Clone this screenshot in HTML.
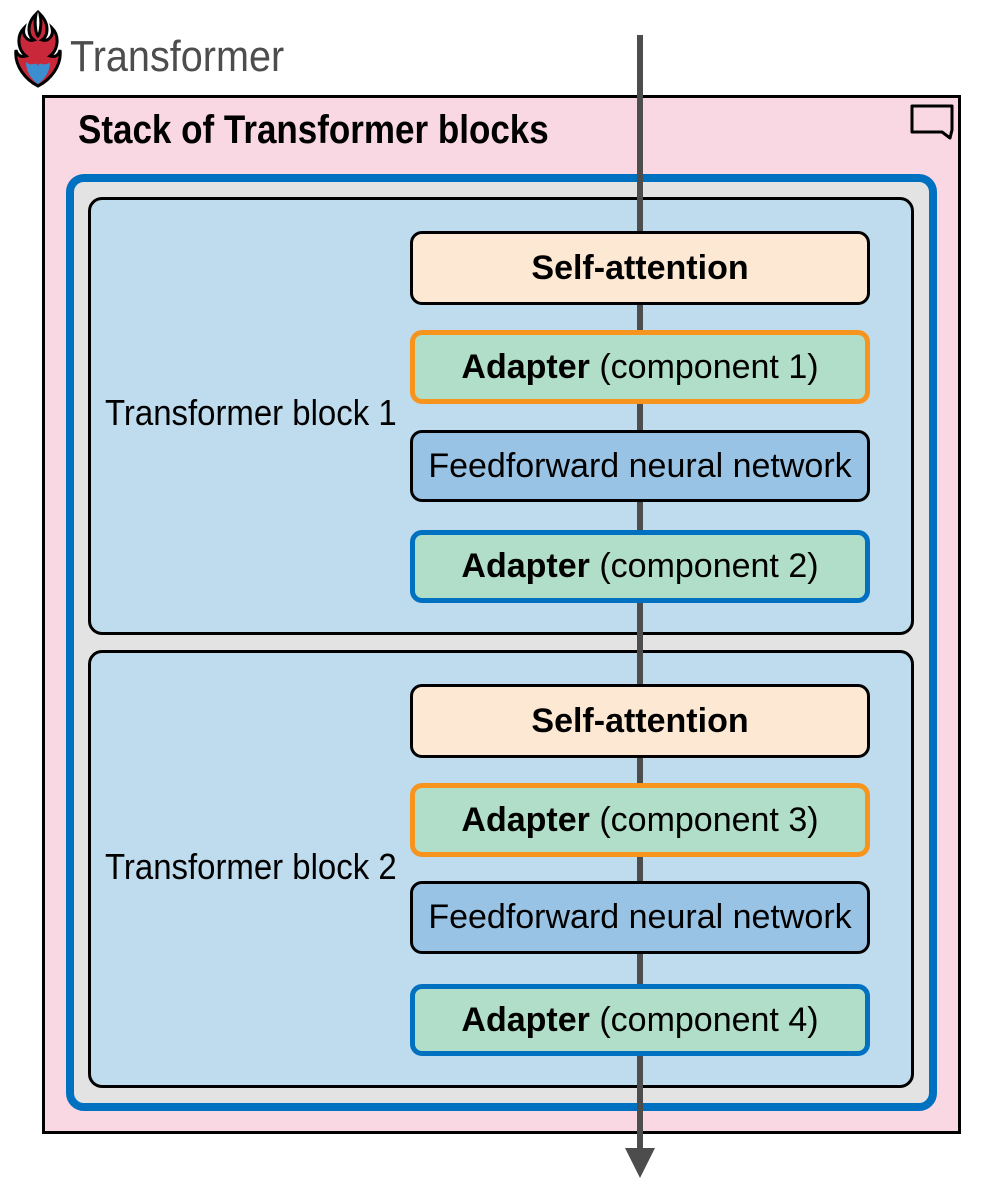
<!DOCTYPE html>
<html><head><style>
body{margin:0;width:1000px;height:1200px;background:#fff;position:relative;font-family:"Liberation Sans Narrow","Liberation Sans",sans-serif;overflow:hidden}
div{position:absolute;box-sizing:border-box}
.bx{left:410px;width:460px;border-radius:12px;display:flex;align-items:center;justify-content:center;font-size:34px;color:#000;white-space:nowrap;z-index:3}
.sa{background:#fde8d3;border:3px solid #000;font-weight:bold}
.ad{background:#b1dec8}
.o{border:5px solid #f7941d}
.b{border:5px solid #0070c0}
.ff{background:#99c3e4;border:3px solid #000}
.blk{left:88px;width:826px;height:438px;border:3.5px solid #000;border-radius:14px;background:#bfdcee}
.lbl{font-size:36px;left:105px;z-index:2;transform:scaleX(0.915);transform-origin:left center;white-space:nowrap}
</style></head><body>
<svg style="position:absolute;left:14px;top:10px" width="50" height="80" viewBox="0 0 50 80">
<path d="M22 4 C12 14 14 26 20 30 C14 32 8 26 10 18 C2 26 4 40 12 46 C6 48 3 44 2 40 C0 56 12 70 24 76 C36 70 48 56 46 40 C45 44 42 48 36 46 C44 40 46 26 38 18 C40 26 34 32 28 30 C34 26 36 14 26 4 C28 14 26 24 24 26 C22 24 20 14 22 4Z" fill="#c8283a" stroke="#000" stroke-width="3"/>
<path d="M12 52 C18 58 22 50 24 56 C26 50 30 58 36 52 C36 62 30 70 24 74 C18 70 12 62 12 52Z" fill="#3b8fd0"/>
</svg>
<div style="left:70px;top:32px;font-size:44px;color:#4d4d4d;transform:scaleX(0.9);transform-origin:left center">Transformer</div>
<div style="left:42px;top:95px;width:919px;height:1039px;border:3px solid #000;background:#f9d7e3"></div>
<div style="left:78px;top:108px;font-size:40px;font-weight:bold;color:#000;transform:scaleX(0.875);transform-origin:left center;white-space:nowrap">Stack of Transformer blocks</div>
<svg style="position:absolute;left:910px;top:104px" width="45" height="38"><path d="M2 2 H42 V26 L40 34 L32 28 H2Z" fill="none" stroke="#000" stroke-width="3" stroke-linejoin="round"/></svg>
<div style="left:66px;top:174px;width:871px;height:937px;border:8px solid #0070c0;border-radius:18px;background:#e3e3e3"></div>
<div class="blk" style="top:197px"></div>
<div class="blk" style="top:650px"></div>
<div class="lbl" style="top:392px">Transformer block 1</div>
<div class="lbl" style="top:846px">Transformer block 2</div>
<div style="left:637px;top:35px;width:6px;height:1120px;background:#4d4d4d;z-index:1"></div>
<svg style="position:absolute;left:625px;top:1148px" width="30" height="32"><polygon points="0,0 30,0 15,30" fill="#4d4d4d"/></svg>
<div class="bx sa" style="top:231px;height:74px">Self-attention</div>
<div class="bx ad o" style="top:330px;height:74px"><b>Adapter</b>&nbsp;(component 1)</div>
<div class="bx ff" style="top:430px;height:72px">Feedforward neural network</div>
<div class="bx ad b" style="top:530px;height:73px"><b>Adapter</b>&nbsp;(component 2)</div>
<div class="bx sa" style="top:684px;height:74px">Self-attention</div>
<div class="bx ad o" style="top:783px;height:74px"><b>Adapter</b>&nbsp;(component 3)</div>
<div class="bx ff" style="top:881px;height:73px">Feedforward neural network</div>
<div class="bx ad b" style="top:984px;height:72px"><b>Adapter</b>&nbsp;(component 4)</div>
</body></html>
